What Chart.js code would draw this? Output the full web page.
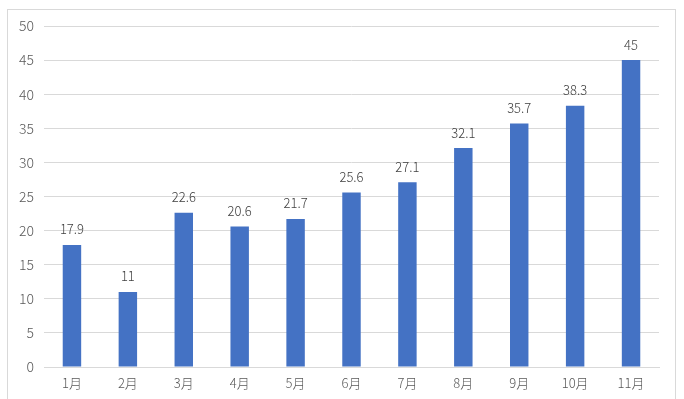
<!DOCTYPE html>
<html>
<head>
<meta charset="utf-8">
<script src="https://cdn.jsdelivr.net/npm/chart.js@4/dist/chart.umd.min.js"></script>
<style>
  html, body { margin: 0; padding: 0; background: #fff; }
  #wrap { position: relative; width: 684px; height: 399px; }
  #frame { position: absolute; left: 7px; top: 9px; width: 669px; height: 400px; border: 1px solid #d9d9d9; box-sizing: border-box; }
  canvas { position: absolute; left: 0; top: 0; }
</style>
</head>
<body>
<div id="wrap">
  <div id="frame"></div>
  <canvas id="chart" width="684" height="399"></canvas>
</div>
<script>
const months = ['1月', '2月', '3月', '4月', '5月', '6月', '7月', '8月', '9月', '10月', '11月']
const values = [17.9, 11, 22.6, 20.6, 21.7, 25.6, 27.1, 32.1, 35.7, 38.3, 45]
const yMax = 50
const yStep = 5

const fontFamily = '"Noto Sans CJK SC", "Noto Sans", sans-serif'

// draw the value above each bar
const valueLabels = {
  id: 'valueLabels',
  afterDatasetsDraw (chart) {
    const ctx = chart.ctx
    const meta = chart.getDatasetMeta(0)
    ctx.save()
    ctx.font = '300 13px ' + fontFamily
    ctx.fillStyle = '#404040'
    ctx.textAlign = 'center'
    ctx.textBaseline = 'bottom'
    meta.data.forEach((bar, i) => {
      ctx.fillText(String(values[i]), bar.x, bar.y - 9)
    })
    ctx.restore()
  }
}

new Chart(document.getElementById('chart'), {
  type: 'bar',
  data: {
    labels: months,
    datasets: [{
      data: values,
      backgroundColor: '#4472C4',
      categoryPercentage: 1,
      barPercentage: 0.33
    }]
  },
  options: {
    responsive: false,
    animation: false,
    layout: { padding: { top: 26, right: 25, bottom: 0, left: 0 } },
    plugins: { legend: { display: false }, tooltip: { enabled: false } },
    scales: {
      x: {
        grid: { display: false, drawTicks: false },
        border: { color: '#d9d9d9' },
        ticks: { color: '#595959', font: { family: fontFamily, size: 13, weight: 300 }, padding: 8 },
        afterFit: (s) => { s.height = 32 }
      },
      y: {
        min: 0,
        max: yMax,
        grid: { color: '#d9d9d9', drawTicks: false },
        border: { display: false },
        ticks: { stepSize: yStep, color: '#595959', font: { family: fontFamily, size: 14, weight: 300 }, padding: 10 },
        afterFit: (s) => { s.width = 44 }
      }
    }
  },
  plugins: [valueLabels]
})
</script>
</body>
</html>
